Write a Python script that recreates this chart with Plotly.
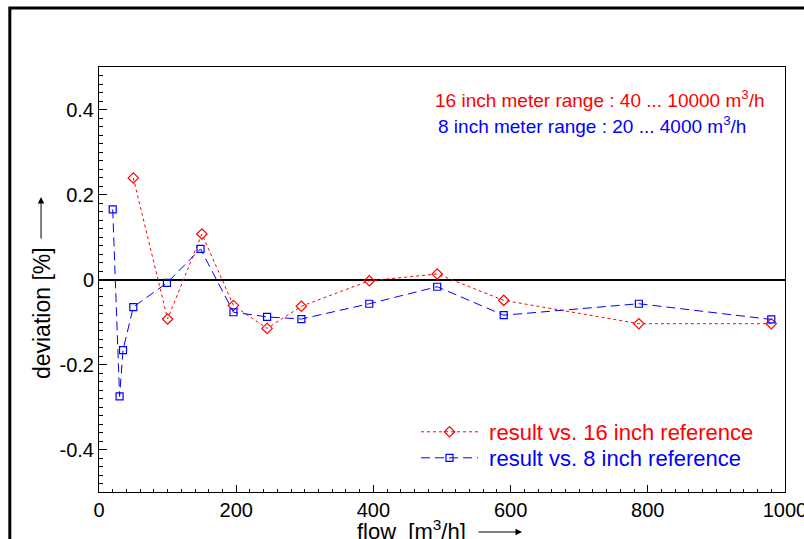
import plotly.graph_objects as go

# ---- data ----
flow_16 = [50, 100, 150, 196, 245, 295, 394, 493, 590, 787, 980]
dev_16 = [0.239, -0.093, 0.107, -0.061, -0.115, -0.063, -0.003, 0.013, -0.049, -0.104, -0.104]

flow_8 = [20, 30, 35, 50, 99, 148, 196, 245, 295, 394, 493, 590, 787, 980]
dev_8 = [0.165, -0.275, -0.166, -0.065, -0.008, 0.072, -0.077, -0.088, -0.093, -0.057, -0.017, -0.084, -0.057, -0.094]

x_ticks = [0, 200, 400, 600, 800, 1000]
y_ticks = [-0.4, -0.2, 0, 0.2, 0.4]
y_tick_labels = ["-0.4", "-0.2", "0", "0.2", "0.4"]

name_16 = "result vs. 16 inch reference"
name_8 = "result vs. 8 inch reference"
note_16 = "16 inch meter range : 40 ... 10000 m<sup>3</sup>/h"
note_8 = "8 inch meter range : 20 ... 4000 m<sup>3</sup>/h"

RED = "#ff0000"
BLUE = "#0000ff"
FONT = "Liberation Sans, Arial, sans-serif"

fig = go.Figure()
fig.add_trace(go.Scatter(
    x=flow_16, y=dev_16, mode="lines+markers",
    name='<span style="color:#ff0000">\u00a0' + name_16 + '</span>',
    line=dict(color=RED, width=1, dash="dot"),
    marker=dict(symbol="diamond-open", size=8, color=RED, line=dict(width=1.2, color=RED)),
    legend="legend",
))
fig.add_trace(go.Scatter(
    x=flow_8, y=dev_8, mode="lines+markers",
    name='<span style="color:#0000ff">\u00a0' + name_8 + '</span>',
    line=dict(color=BLUE, width=1, dash="9px,5px"),
    marker=dict(symbol="square-open", size=7, color=BLUE, line=dict(width=1.2, color=BLUE)),
    legend="legend2",
))

legend_common = dict(
    xanchor="left", yanchor="middle",
    bgcolor="rgba(0,0,0,0)", borderwidth=0,
    font=dict(size=22, family=FONT),
    itemwidth=57,
)

fig.update_layout(
    width=804, height=539,
    margin=dict(l=99, r=19, t=67, b=47, autoexpand=False),
    paper_bgcolor="white", plot_bgcolor="white",
    font=dict(family=FONT, size=20, color="black"),
    showlegend=True,
    legend=dict(x=0.4621, y=0.1412, **legend_common),
    legend2=dict(x=0.4621, y=0.080, **legend_common),
    xaxis=dict(
        range=[0, 1000], tickvals=x_ticks, ticktext=[str(v) for v in x_ticks],
        ticks="inside", ticklen=7, tickwidth=1, tickcolor="black",
        minor=dict(dtick=20, ticks="inside", ticklen=3, tickcolor="black", tickwidth=1),
        showline=True, linecolor="black", linewidth=1, mirror=True,
        showgrid=False, zeroline=False, ticklabeloverflow="allow", automargin=False,
        tickfont=dict(size=20, family=FONT),
    ),
    yaxis=dict(
        range=[-0.5, 0.5], tickvals=y_ticks, ticktext=y_tick_labels,
        ticks="inside", ticklen=8, tickwidth=1, tickcolor="black",
        minor=dict(dtick=0.02, ticks="inside", ticklen=4, tickcolor="black", tickwidth=1),
        showline=True, linecolor="black", linewidth=1, mirror=True,
        showgrid=False, zeroline=True, zerolinecolor="black", zerolinewidth=2,
        tickfont=dict(size=20, family=FONT), ticklabeloverflow="allow", automargin=False,
    ),
)

# outer frame (extends beyond the right/bottom of the picture)
fig.add_shape(type="rect", xref="paper", yref="paper",
              x0=-0.13, x1=1.3, y0=-0.5, y1=1.139,
              line=dict(color="black", width=3), layer="below")

# notes
fig.add_annotation(xref="paper", yref="paper", x=0.730, y=0.925, text=note_16,
                   showarrow=False, font=dict(color=RED, size=19, family=FONT),
                   xanchor="center", yanchor="middle")
fig.add_annotation(xref="paper", yref="paper", x=0.718, y=0.8635, text=note_8,
                   showarrow=False, font=dict(color=BLUE, size=19, family=FONT),
                   xanchor="center", yanchor="middle")

# axis titles
fig.add_annotation(xref="paper", yref="paper", x=-0.0831, y=0.421, text="deviation [%]",
                   textangle=-90, showarrow=False, font=dict(size=23, family=FONT),
                   xanchor="center", yanchor="middle")
fig.add_annotation(xref="paper", yref="paper", x=0.455, y=-0.089, text="flow  [m<sup>3</sup>/h]",
                   showarrow=False, font=dict(size=22, family=FONT),
                   xanchor="center", yanchor="middle")

# axis arrows
fig.add_annotation(xref="paper", yref="paper", x=-0.0845, y=0.694, text="",
                   showarrow=True, ax=0, ay=43, arrowhead=2, arrowsize=1.3,
                   arrowwidth=1, arrowcolor="black")
fig.add_annotation(xref="paper", yref="paper", x=0.6166, y=-0.0941, text="",
                   showarrow=True, ax=-45, ay=0, arrowhead=2, arrowsize=1.3,
                   arrowwidth=1, arrowcolor="black")

fig.write_html("out.html")
